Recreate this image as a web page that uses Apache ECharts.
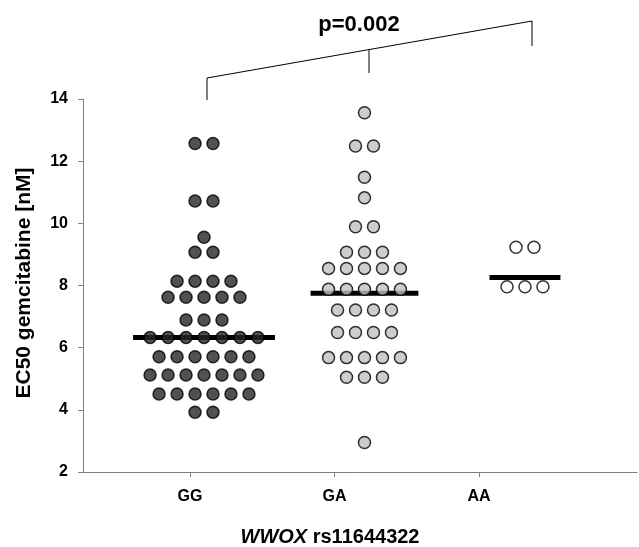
<!DOCTYPE html>
<html>
<head>
<meta charset="utf-8">
<script src="https://cdn.jsdelivr.net/npm/echarts@6/dist/echarts.min.js"></script>
<style>html,body{margin:0;padding:0;background:#fff}#c{width:639px;height:547px}</style>
</head>
<body>
<div id="c"></div>
<script>
// ---- data ----
const categories = ['GG', 'GA', 'AA'];
const ggValues = [12.57, 12.57, 10.72, 10.72, 9.55, 9.07, 9.07,
  8.14, 8.14, 8.14, 8.14, 7.62, 7.62, 7.62, 7.62, 7.62,
  6.89, 6.89, 6.89, 6.33, 6.33, 6.33, 6.33, 6.33, 6.33, 6.33,
  5.71, 5.71, 5.71, 5.71, 5.71, 5.71,
  5.12, 5.12, 5.12, 5.12, 5.12, 5.12, 5.12,
  4.51, 4.51, 4.51, 4.51, 4.51, 4.51, 3.92, 3.92];
const gaValues = [13.56, 12.49, 12.49, 11.48, 10.82, 9.89, 9.89,
  9.07, 9.07, 9.07, 8.55, 8.55, 8.55, 8.55, 8.55,
  7.88, 7.88, 7.88, 7.88, 7.88, 7.21, 7.21, 7.21, 7.21,
  6.49, 6.49, 6.49, 6.49, 5.68, 5.68, 5.68, 5.68, 5.68,
  5.05, 5.05, 5.05, 2.95];
const aaValues = [9.23, 9.23, 7.96, 7.96, 7.96];
const medians = [6.33, 7.75, 8.26];
const yTicks = [2, 4, 6, 8, 10, 12, 14];
const pLabel = 'p=0.002';
const xTitleItalic = 'WWOX';
const xTitleRest = ' rs11644322';
const yTitle = 'EC50 gemcitabine [nM]';

// ---- layout helpers ----
const FONT = '"Liberation Sans", Arial, sans-serif';
const dotStep = 0.112;            // horizontal spacing of dots, in axis units
const lineHalf = [0.442, 0.336, 0.221];

function swarm(values, center) {
  const counts = {};
  values.forEach(v => { counts[v] = (counts[v] || 0) + 1; });
  const out = [];
  Object.keys(counts).forEach(k => {
    const n = counts[k];
    for (let i = 0; i < n; i++) {
      out.push([center + (i - (n - 1) / 2) * dotStep, Number(k)]);
    }
  });
  return out;
}

const groups = [ggValues, gaValues, aaValues];
const styles = [
  { color: '#262626', borderColor: '#000', borderWidth: 1.5 },
  { color: '#c0c0c0', borderColor: '#000', borderWidth: 1.5 },
  { color: '#ffffff', borderColor: '#000', borderWidth: 1.5 }
];

const series = [];
medians.forEach((m, i) => {
  series.push({
    type: 'line', xAxisIndex: 1, yAxisIndex: 0,
    data: [[i + 1 - lineHalf[i], m], [i + 1 + lineHalf[i], m]],
    symbol: 'none', lineStyle: { color: '#000', width: 5 }, z: 2,
    silent: true, animation: false
  });
});
groups.forEach((g, i) => {
  series.push({
    type: 'scatter', xAxisIndex: 1, yAxisIndex: 0,
    data: swarm(g, i + 1), symbol: 'circle', symbolSize: 12,
    itemStyle: styles[i], z: 3, animation: false
  });
});

const chart = echarts.init(document.getElementById('c'));
chart.setOption({
  animation: false,
  grid: { left: 83, right: 2, top: 99, bottom: 75, containLabel: false },
  xAxis: [{
    type: 'value', min: 0.2595, max: 4.093,
    axisLine: { show: true, lineStyle: { color: '#808080', width: 1 } },
    axisTick: { show: true, inside: false, length: 5, customValues: [1, 2, 3], lineStyle: { color: '#808080' } },
    axisLabel: { customValues: [1, 2, 3], formatter: v => categories[Math.round(v) - 1] || '',
      fontFamily: FONT, fontWeight: 'bold', fontSize: 16, color: '#000', margin: 17 },
    splitLine: { show: false }
  }, {
    type: 'value', min: 0.246, max: 3.698, show: false, position: 'bottom',
    splitLine: { show: false }
  }],
  yAxis: [{
    type: 'value', min: 2, max: 14, interval: 2,
    axisLine: { show: true, lineStyle: { color: '#808080', width: 1 } },
    axisTick: { show: true, inside: false, length: 5, lineStyle: { color: '#808080' } },
    axisLabel: { fontFamily: FONT, fontWeight: 'bold', fontSize: 16, color: '#000', margin: 15,
      formatter: v => (yTicks.indexOf(v) >= 0 ? String(v) : '') },
    splitLine: { show: false }
  }],
  graphic: [
    { type: 'polyline', shape: { points: [[207, 100], [207, 78], [532, 21], [532, 46]] },
      style: { stroke: '#000', lineWidth: 1, fill: null }, silent: true },
    { type: 'line', shape: { x1: 369, y1: 50, x2: 369, y2: 73 },
      style: { stroke: '#000', lineWidth: 1 }, silent: true },
    { type: 'text', x: 359, y: 25,
      style: { text: pLabel, font: 'bold 22px ' + FONT, fill: '#000', align: 'center', verticalAlign: 'middle' } },
    { type: 'text', x: 24, y: 283, rotation: Math.PI / 2,
      style: { text: yTitle, font: 'bold 21px ' + FONT, fill: '#000', align: 'center', verticalAlign: 'middle' } },
    { type: 'text', x: 330, y: 537,
      style: { text: '{i|' + xTitleItalic + '}{r|' + xTitleRest + '}', align: 'center', verticalAlign: 'middle',
        rich: {
          i: { fontFamily: FONT, fontWeight: 'bold', fontStyle: 'italic', fontSize: 20, fill: '#000' },
          r: { fontFamily: FONT, fontWeight: 'bold', fontSize: 20, fill: '#000' }
        } } }
  ],
  series: series
});
</script>
</body>
</html>
